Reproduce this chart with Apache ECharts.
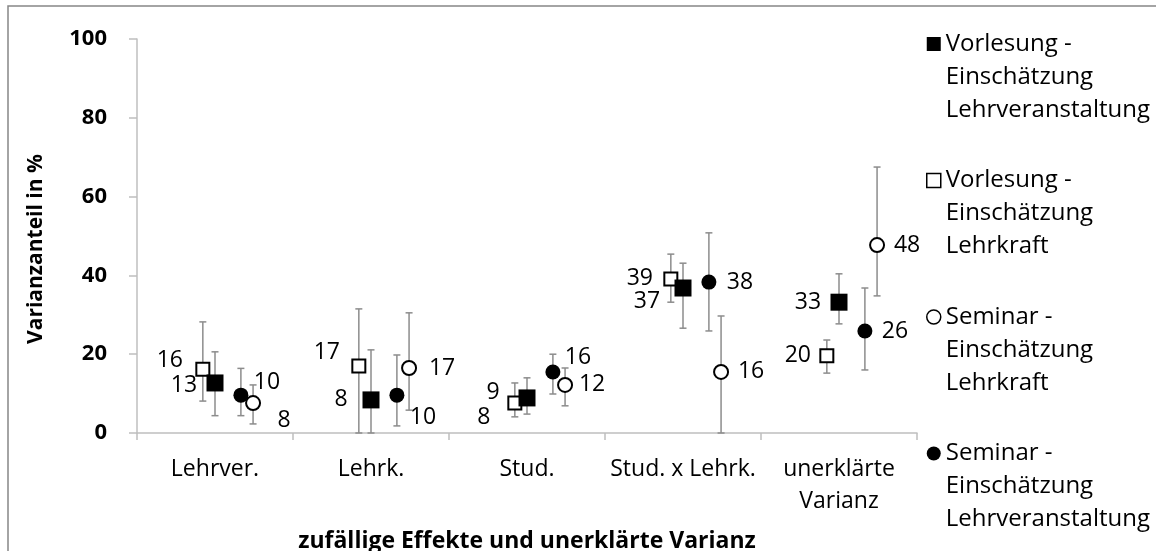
<!DOCTYPE html>
<html>
<head>
<meta charset="utf-8">
<script src="https://cdn.jsdelivr.net/npm/echarts@6/dist/echarts.min.js"></script>
<style>html,body{margin:0;padding:0;background:#fff}#c{width:1156px;height:551px}</style>
</head>
<body>
<div id="c"></div>
<script>
// ---- data ----
const categories = ['Lehrver.', 'Lehrk.', 'Stud.', 'Stud. x Lehrk.', 'unerklärte\nVarianz'];
const yTicks = [0, 20, 40, 60, 80, 100];

const seriesNames = [
  'Vorlesung - Einschätzung Lehrveranstaltung',
  'Vorlesung - Einschätzung Lehrkraft',
  'Seminar - Einschätzung Lehrkraft',
  'Seminar - Einschätzung Lehrveranstaltung'
];

// Vorlesung - Einschätzung Lehrveranstaltung (filled square)
const vlLvValue = [12.7, 8.4, 8.9, 36.8, 33.2];
const vlLvLow   = [4.4, 0, 4.8, 26.6, 27.7];
const vlLvHigh  = [20.6, 21.1, 14.0, 43.1, 40.4];

// Vorlesung - Einschätzung Lehrkraft (open square)
const vlLkValue = [16.2, 17.0, 7.6, 39.1, 19.6];
const vlLkLow   = [8.1, 0, 4.1, 33.2, 15.2];
const vlLkHigh  = [28.2, 31.5, 12.7, 45.4, 23.6];

// Seminar - Einschätzung Lehrkraft (open circle)
const semLkValue = [7.6, 16.5, 12.2, 15.5, 47.7];
const semLkLow   = [2.3, 5.8, 6.9, 0, 34.8];
const semLkHigh  = [12.2, 30.5, 16.5, 29.7, 67.5];

// Seminar - Einschätzung Lehrveranstaltung (filled circle)
const semLvValue = [9.6, 9.6, 15.5, 38.3, 25.9];
const semLvLow   = [4.4, 1.8, 9.9, 25.9, 16.0];
const semLvHigh  = [16.4, 19.8, 20.0, 50.8, 36.8];

// ---- layout / style (not data) ----
const FONT = "'Open Sans', sans-serif";
const BAR_COLOR = '#8c8c8c';
const AXIS_COLOR = '#bfbfbf';

const styles = {
  vlLv:  { shape: 'square', filled: true,  offset: 0,      size: 17, labelDx: [-31,-30,-34,-36,-31], labelDy: [2,0,-5,13,0] },
  vlLk:  { shape: 'square', filled: false, offset: -0.078, size: 13, labelDx: [-33,-32,-31,-31,-29], labelDy: [-9,-14,14,0,0] },
  semLk: { shape: 'circle', filled: false, offset: 0.244,  size: 14, labelDx: [31,33,27,30,30], labelDy: [17,0,0,0,0] },
  semLv: { shape: 'circle', filled: true,  offset: 0.166,  size: 15, labelDx: [26,26,25,31,30], labelDy: [-13,22,-14,0,0] }
};

function buildData(vals, lows, highs) {
  return vals.map((v, i) => [i, v, lows[i], highs[i]]);
}

function makeRender(st) {
  return function (params, api) {
    const ci = api.value(0), v = api.value(1), lo = api.value(2), hi = api.value(3);
    const band = api.size([1, 0])[0];
    const p = api.coord([ci, v]);
    const cx = p[0] + st.offset * band;
    const cy = p[1];
    const yLo = api.coord([ci, lo])[1];
    const yHi = api.coord([ci, hi])[1];
    const cap = 3.5;
    const lineStyle = { stroke: BAR_COLOR, lineWidth: 1.5 };
    const children = [
      { type: 'line', shape: { x1: cx, y1: yLo, x2: cx, y2: yHi }, style: lineStyle },
      { type: 'line', shape: { x1: cx - cap, y1: yHi, x2: cx + cap, y2: yHi }, style: lineStyle },
      { type: 'line', shape: { x1: cx - cap, y1: yLo, x2: cx + cap, y2: yLo }, style: lineStyle }
    ];
    const s = st.size;
    const mStyle = st.filled
      ? { fill: '#000', stroke: null }
      : { fill: '#fff', stroke: '#000', lineWidth: 2 };
    if (st.shape === 'square') {
      children.push({ type: 'rect', shape: { x: cx - s / 2, y: cy - s / 2, width: s, height: s }, style: mStyle });
    } else {
      children.push({ type: 'circle', shape: { cx: cx, cy: cy, r: s / 2 }, style: mStyle });
    }
    const idx = params.dataIndex;
    children.push({
      type: 'text',
      style: {
        text: String(Math.round(v)),
        x: cx + st.labelDx[idx],
        y: cy + st.labelDy[idx],
        align: 'center',
        verticalAlign: 'middle',
        fill: '#000',
        font: "23px " + FONT
      }
    });
    return { type: 'group', children: children };
  };
}

function customSeries(name, st, data) {
  return {
    type: 'custom',
    name: name,
    renderItem: makeRender(st),
    data: data,
    encode: { x: 0, y: [1, 2, 3] },
    itemStyle: { color: st.filled ? '#000' : '#fff', borderColor: '#000' },
    clip: false,
    silent: true
  };
}

const chart = echarts.init(document.getElementById('c'), null, { renderer: 'canvas' });

const legendLines = {
  [seriesNames[0]]: '\n\nVorlesung -\nEinschätzung\nLehrveranstaltung',
  [seriesNames[1]]: '\n\nVorlesung -\nEinschätzung\nLehrkraft',
  [seriesNames[2]]: '\n\nSeminar -\nEinschätzung\nLehrkraft',
  [seriesNames[3]]: '\n\nSeminar -\nEinschätzung\nLehrveranstaltung'
};

const option = {
  backgroundColor: '#fff',
  animation: false,
  textStyle: { fontFamily: FONT },
  grid: { left: 137, right: 239, top: 39, bottom: 118, outerBoundsMode: 'none', containLabel: false },
  graphic: [{
    type: 'rect',
    shape: { x: 8, y: 6, width: 1160, height: 560 },
    style: { fill: 'none', stroke: '#868686', lineWidth: 1.5 },
    silent: true
  }],
  legend: {
    orient: 'vertical',
    left: 921,
    top: -43.5,
    height: 2000,
    itemGap: -28.5,
    itemWidth: 14,
    itemHeight: 14,
    selectedMode: false,
    formatter: n => legendLines[n],
    textStyle: { fontFamily: FONT, fontSize: 24, color: '#000', lineHeight: 33 },
    data: [
      { name: seriesNames[0], icon: 'rect', itemStyle: { color: '#000', borderColor: '#000', borderWidth: 0 } },
      { name: seriesNames[1], icon: 'rect', itemStyle: { color: '#fff', borderColor: '#000', borderWidth: 1.5 } },
      { name: seriesNames[2], icon: 'circle', itemStyle: { color: '#fff', borderColor: '#000', borderWidth: 1.5 } },
      { name: seriesNames[3], icon: 'circle', itemStyle: { color: '#000', borderColor: '#000', borderWidth: 0 } }
    ]
  },
  xAxis: {
    type: 'category',
    data: categories,
    name: 'zufällige Effekte und unerklärte Varianz',
    nameLocation: 'middle',
    nameGap: 97,
    nameTextStyle: { fontFamily: FONT, fontSize: 23, fontWeight: 'bold', color: '#000' },
    axisLine: { lineStyle: { color: AXIS_COLOR, width: 1.5 } },
    axisTick: { show: true, length: 7, lineStyle: { color: AXIS_COLOR, width: 1.5 } },
    axisLabel: { fontFamily: FONT, fontSize: 23, color: '#000', lineHeight: 32, margin: 20, interval: 0 },
    splitLine: { show: false }
  },
  yAxis: {
    type: 'value',
    min: yTicks[0],
    max: yTicks[yTicks.length - 1],
    interval: 20,
    name: 'Varianzanteil in %',
    nameLocation: 'middle',
    nameRotate: 90,
    nameGap: 90,
    nameTextStyle: { fontFamily: FONT, fontSize: 21, fontWeight: 'bold', color: '#000', padding: [0, 26, 0, 0] },
    axisLine: { show: true, lineStyle: { color: AXIS_COLOR, width: 1.5 } },
    axisTick: { show: true, length: 8, lineStyle: { color: AXIS_COLOR, width: 1.5 } },
    axisLabel: { fontFamily: FONT, fontSize: 22, fontWeight: 'bold', color: '#000', margin: 30 },
    splitLine: { show: false }
  },
  series: [
    customSeries(seriesNames[1], styles.vlLk, buildData(vlLkValue, vlLkLow, vlLkHigh)),
    customSeries(seriesNames[0], styles.vlLv, buildData(vlLvValue, vlLvLow, vlLvHigh)),
    customSeries(seriesNames[3], styles.semLv, buildData(semLvValue, semLvLow, semLvHigh)),
    customSeries(seriesNames[2], styles.semLk, buildData(semLkValue, semLkLow, semLkHigh))
  ]
};

chart.setOption(option);
</script>
</body>
</html>
